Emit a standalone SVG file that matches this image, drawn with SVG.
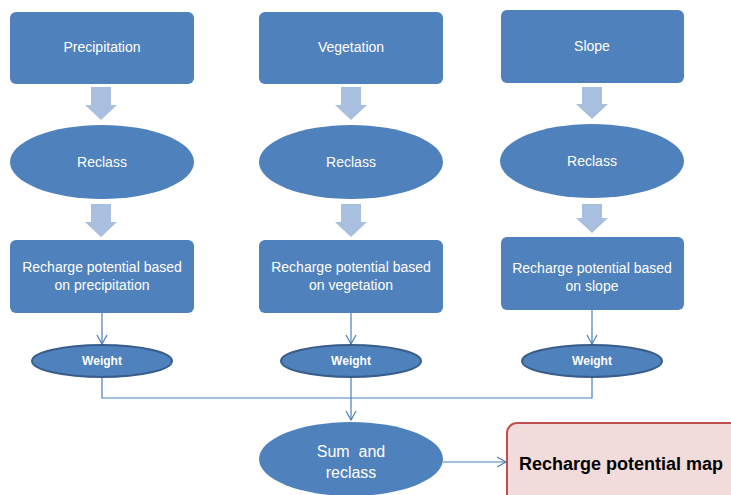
<svg xmlns="http://www.w3.org/2000/svg" width="731" height="495" viewBox="0 0 731 495">
<defs>
<style>
.box{fill:#4f81bd;}
.ell{fill:#4f81bd;}
.wt{fill:#4f81bd;stroke:#385d8a;stroke-width:2;}
.blk{fill:#a8bfdf;}
.t{font-family:"Liberation Sans",Arial,sans-serif;font-size:14px;fill:#ffffff;text-anchor:middle;}
.tw{font-family:"Liberation Sans",Arial,sans-serif;font-size:12px;font-weight:bold;fill:#ffffff;text-anchor:middle;}
.ts{font-family:"Liberation Sans",Arial,sans-serif;font-size:16px;fill:#ffffff;text-anchor:middle;}
.tr{font-family:"Liberation Sans",Arial,sans-serif;font-size:18px;font-weight:bold;fill:#000000;}
.ln{fill:none;stroke:#4a7ebb;stroke-width:1.2;}
</style>
<marker id="ah" markerWidth="12" markerHeight="12" refX="10" refY="6" orient="auto" markerUnits="userSpaceOnUse">
<path d="M1,1 L10,6 L1,11" fill="none" stroke="#4a7ebb" stroke-width="1.2"/>
</marker>
</defs>
<rect width="731" height="495" fill="#ffffff"/>

<g id="connectors">
<path class="blk" d="M91,87 H111 V105 H117 L101,120 L85,105 H91 Z"/>
<path class="blk" d="M91,204 H111 V222 H117 L101,237 L85,222 H91 Z"/>
<path class="blk" d="M341,87 H361 V105 H367 L351,120 L335,105 H341 Z"/>
<path class="blk" d="M341,204 H361 V222 H367 L351,237 L335,222 H341 Z"/>
<path class="blk" d="M582,87 H602 V104 H608 L592,119 L576,104 H582 Z"/>
<path class="blk" d="M582,204 H602 V218 H608 L592,233 L576,218 H582 Z"/>
<line class="ln" x1="102" y1="313" x2="102" y2="344" marker-end="url(#ah)"/>
<line class="ln" x1="351" y1="313" x2="351" y2="344" marker-end="url(#ah)"/>
<line class="ln" x1="592" y1="310" x2="592" y2="344" marker-end="url(#ah)"/>
<path class="ln" d="M102,377 V398 H592 V377"/>
<line class="ln" x1="351" y1="377" x2="351" y2="420" marker-end="url(#ah)"/>
<line class="ln" x1="443" y1="462" x2="506" y2="462" marker-end="url(#ah)"/>
</g>

<g id="precipitation"><rect class="box" x="10" y="12" width="184" height="72" rx="6"/><text class="t" x="102" y="52">Precipitation</text></g>
<g id="vegetation"><rect class="box" x="259" y="12" width="184" height="72" rx="6"/><text class="t" x="351" y="52">Vegetation</text></g>
<g id="slope"><rect class="box" x="501" y="10" width="183" height="73" rx="6"/><text class="t" x="592" y="51">Slope</text></g>

<g id="reclass1"><ellipse class="ell" cx="102" cy="162" rx="92" ry="37"/><text class="t" x="102" y="167">Reclass</text></g>
<g id="reclass2"><ellipse class="ell" cx="351" cy="162" rx="92" ry="37"/><text class="t" x="351" y="167">Reclass</text></g>
<g id="reclass3"><ellipse class="ell" cx="592" cy="161" rx="92" ry="37"/><text class="t" x="592" y="166">Reclass</text></g>

<g id="rp1"><rect class="box" x="10" y="240" width="184" height="73" rx="6"/><text class="t" x="102" y="272">Recharge potential based</text><text class="t" x="102" y="290">on precipitation</text></g>
<g id="rp2"><rect class="box" x="259" y="240" width="184" height="73" rx="6"/><text class="t" x="351" y="272">Recharge potential based</text><text class="t" x="351" y="290">on vegetation</text></g>
<g id="rp3"><rect class="box" x="501" y="237" width="183" height="73" rx="6"/><text class="t" x="592" y="273">Recharge potential based</text><text class="t" x="592" y="291">on slope</text></g>

<g id="weight1"><ellipse class="wt" cx="102" cy="361" rx="70" ry="16"/><text class="tw" x="102" y="365">Weight</text></g>
<g id="weight2"><ellipse class="wt" cx="351" cy="361" rx="70" ry="16"/><text class="tw" x="351" y="365">Weight</text></g>
<g id="weight3"><ellipse class="wt" cx="592" cy="361" rx="70" ry="16"/><text class="tw" x="592" y="365">Weight</text></g>

<g id="sum"><ellipse class="ell" cx="351" cy="459" rx="92" ry="37"/><text class="ts" x="351" y="457" xml:space="preserve">Sum  and</text><text class="ts" x="351" y="478">reclass</text></g>

<g id="map"><rect x="507" y="423" width="240" height="90" rx="10" fill="#f2dcdb" stroke="#c0504d" stroke-width="2"/><text class="tr" x="519" y="470">Recharge potential map</text></g>
</svg>
